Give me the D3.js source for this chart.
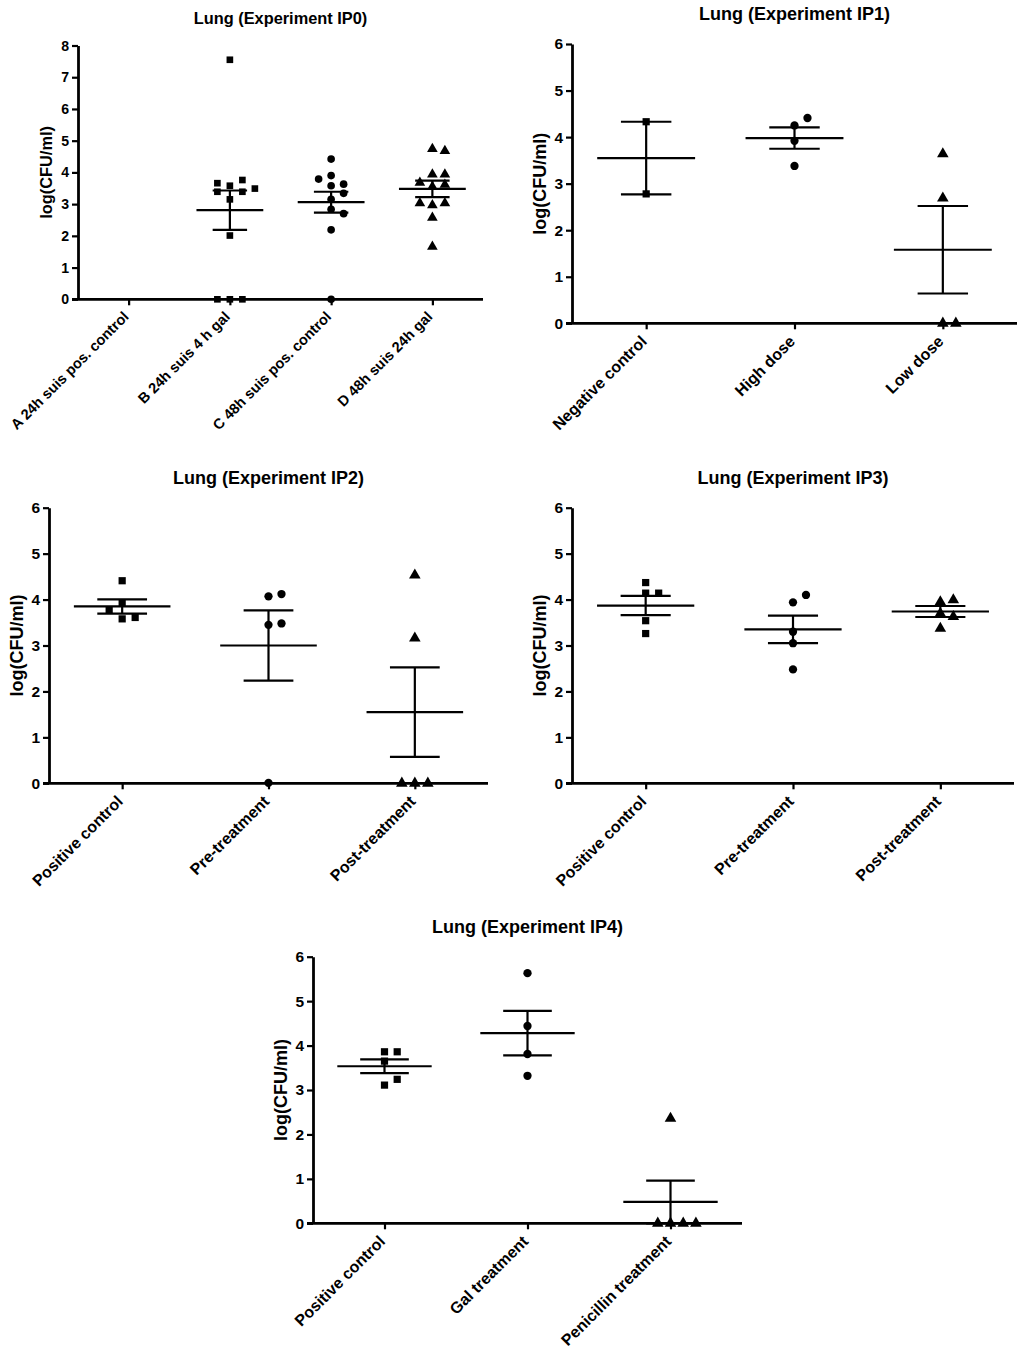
<!DOCTYPE html>
<html lang="en">
<head>
    <meta charset="UTF-8">
    <script src="https://d3js.org/d3.v7.min.js"></script>
    <title>Lung CFU experiments IP0-IP4</title>
    <style>
        body { margin: 0; background: #fff; }
        svg { font-family: Arial, "Liberation Sans", sans-serif; font-weight: bold; }
    </style>
</head>
<body>
    <div id="chart"></div>
    <script>
        // Data: log(CFU/ml) per animal, plus mean and SEM per group
        const ip0Groups = ["A 24h suis pos. control", "B 24h suis 4 h gal", "C 48h suis pos. control", "D 48h suis 24h gal"];
        const ip0Values = [
            [],
            [7.55, 3.58, 3.76, 3.66, 3.39, 3.39, 3.49, 3.15, 2.01, 0, 0, 0],
            [4.42, 3.58, 3.63, 3.79, 3.90, 3.34, 3.15, 2.84, 2.70, 2.19, 0],
            [4.74, 4.68, 3.94, 3.94, 3.55, 3.61, 3.68, 2.97, 3.03, 3.03, 2.57, 1.66]
        ];
        const ip0Mean = [null, 2.81, 3.06, 3.48];
        const ip0Sem = [null, 0.62, 0.33, 0.26];

        const ip1Groups = ["Negative control", "High dose", "Low dose"];
        const ip1Values = [
            [4.33, 2.78],
            [4.25, 4.41, 3.92, 3.38],
            [3.64, 2.69, 0, 0]
        ];
        const ip1Mean = [3.55, 3.98, 1.58];
        const ip1Sem = [0.78, 0.23, 0.94];

        const ip2Groups = ["Positive control", "Pre-treatment", "Post-treatment"];
        const ip2Values = [
            [4.41, 3.92, 3.58, 3.61, 3.77],
            [4.07, 4.12, 3.45, 3.48, 0.01],
            [4.53, 3.16, 0, 0, 0]
        ];
        const ip2Mean = [3.85, 3.00, 1.55];
        const ip2Sem = [0.155, 0.765, 0.975];

        const ip3Groups = ["Positive control", "Pre-treatment", "Post-treatment"];
        const ip3Values = [
            [4.14, 4.14, 4.37, 3.54, 3.26],
            [3.94, 4.10, 3.05, 3.30, 2.48],
            [3.95, 3.99, 3.70, 3.63, 3.37]
        ];
        const ip3Mean = [3.87, 3.35, 3.74];
        const ip3Sem = [0.21, 0.30, 0.12];

        const ip4Groups = ["Positive control", "Gal treatment", "Penicillin treatment"];
        const ip4Values = [
            [3.65, 3.86, 3.86, 3.11, 3.24],
            [5.63, 4.44, 3.81, 3.32],
            [2.36, 0, 0, 0, 0]
        ];
        const ip4Mean = [3.535, 4.28, 0.48];
        const ip4Sem = [0.155, 0.50, 0.48];

        // Panel layout
        const panels = [
            { title: "Lung (Experiment IP0)", groups: ip0Groups, values: ip0Values, mean: ip0Mean, sem: ip0Sem,
              yMax: 8, symbols: ["square", "square", "circle", "triangle"],
              left: 78, right: 483, top: 45.5, bottom: 299.3, titleY: 24, font: 0.91, mark: 0.85, slot: 12.5 },
            { title: "Lung (Experiment IP1)", groups: ip1Groups, values: ip1Values, mean: ip1Mean, sem: ip1Sem,
              yMax: 6, symbols: ["square", "circle", "triangle"],
              left: 572, right: 1017, top: 44, bottom: 323.3, titleY: 20, font: 1, mark: 1, slot: 13 },
            { title: "Lung (Experiment IP2)", groups: ip2Groups, values: ip2Values, mean: ip2Mean, sem: ip2Sem,
              yMax: 6, symbols: ["square", "circle", "triangle"],
              left: 49, right: 488, top: 507.7, bottom: 783.3, titleY: 484, font: 1, mark: 1, slot: 13 },
            { title: "Lung (Experiment IP3)", groups: ip3Groups, values: ip3Values, mean: ip3Mean, sem: ip3Sem,
              yMax: 6, symbols: ["square", "circle", "triangle"],
              left: 572, right: 1014, top: 507.7, bottom: 783.3, titleY: 484, font: 1, mark: 1, slot: 13 },
            { title: "Lung (Experiment IP4)", groups: ip4Groups, values: ip4Values, mean: ip4Mean, sem: ip4Sem,
              yMax: 6, symbols: ["square", "circle", "triangle"],
              left: 313, right: 742, top: 956.7, bottom: 1223.3, titleY: 933, font: 1, mark: 1, slot: 12.7 }
        ];

        const symbolTypes = { square: d3.symbolSquare, circle: d3.symbolCircle, triangle: d3.symbolTriangle };
        const symbolSizes = { square: 52, circle: 54, triangle: 58 };

        const svg = d3.select("#chart")
            .append("svg")
            .attr("width", 1024)
            .attr("height", 1348);

        panels.forEach(drawPanel);

        // Spread overlapping points sideways, like a scatter dot plot
        function swarm(values, y, thr) {
            const placed = [];
            const order = [0, 1, -1, 2, -2, 3, -3];
            return values.map(v => {
                const py = y(v);
                for (const k of order) {
                    if (!placed.some(p => p.k === k && Math.abs(p.py - py) < thr)) {
                        placed.push({ py, k });
                        return k;
                    }
                }
                return 0;
            });
        }

        function drawPanel(p) {
            const g = svg.append("g");

            const x = d3.scalePoint()
                .domain(p.groups)
                .range([p.left, p.right])
                .padding(0.5);

            const y = d3.scaleLinear()
                .domain([0, p.yMax])
                .range([p.bottom, p.top]);

            const step = x.step();

            // Title
            g.append("text")
                .attr("x", (p.left + p.right) / 2)
                .attr("y", p.titleY)
                .attr("text-anchor", "middle")
                .style("font-size", `${18 * p.font}px`)
                .text(p.title);

            // Y axis
            const yAxis = g.append("g")
                .attr("transform", `translate(${p.left},0)`)
                .call(d3.axisLeft(y).ticks(p.yMax).tickSize(6).tickSizeOuter(0).tickPadding(3).tickFormat(d3.format("d")))
                .attr("font-family", null)
                .attr("font-size", null);
            yAxis.select(".domain").attr("stroke-width", 2.8);
            yAxis.selectAll(".tick line").attr("stroke-width", 2.2);
            yAxis.selectAll(".tick text")
                .style("font-size", `${15.5 * p.font}px`)
                .attr("fill", "#000");

            // X axis
            const xAxis = g.append("g")
                .attr("transform", `translate(0,${y(0)})`)
                .call(d3.axisBottom(x).tickSize(6).tickSizeOuter(0))
                .attr("font-family", null)
                .attr("font-size", null);
            xAxis.select(".domain").remove();
            xAxis.append("line")
                .attr("x1", p.left - 6)
                .attr("x2", p.right)
                .attr("stroke", "#000")
                .attr("stroke-width", 2.8);
            xAxis.selectAll(".tick line").attr("stroke-width", 2.2);
            xAxis.selectAll(".tick text")
                .attr("x", 0)
                .attr("y", 0)
                .attr("dy", "0.72em")
                .attr("text-anchor", "end")
                .attr("transform", "translate(-7,11) rotate(-45)")
                .attr("fill", "#000")
                .style("font-size", `${16 * p.font}px`);

            // Y axis label
            g.append("text")
                .attr("transform", `translate(${p.left - 32},${(p.top + p.bottom) / 2}) rotate(-90)`)
                .attr("text-anchor", "middle")
                .attr("dy", "0.35em")
                .style("font-size", `${18 * p.font}px`)
                .text("log(CFU/ml)");

            // Points
            p.groups.forEach((grp, i) => {
                const shape = p.symbols[i];
                const slots = swarm(p.values[i], y, 8.5);
                const sym = d3.symbol().type(symbolTypes[shape]).size(symbolSizes[shape] * p.mark);
                g.selectAll(null)
                    .data(p.values[i])
                    .enter()
                    .append("path")
                    .attr("d", sym)
                    .attr("fill", "#000")
                    .attr("transform", (d, j) => `translate(${x(grp) + slots[j] * p.slot},${y(d)})`);
            });

            // Mean and SEM
            p.groups.forEach((grp, i) => {
                const m = p.mean[i];
                if (m == null) return;
                const s = p.sem[i];
                const cx = x(grp);
                const hi = m + s;
                const lo = Math.max(0, m - s);
                const lines = [
                    [cx - 0.33 * step, y(m), cx + 0.33 * step, y(m)],
                    [cx, y(hi), cx, y(lo)],
                    [cx - 0.17 * step, y(hi), cx + 0.17 * step, y(hi)],
                    [cx - 0.17 * step, y(lo), cx + 0.17 * step, y(lo)]
                ];
                g.selectAll(null)
                    .data(lines)
                    .enter()
                    .append("line")
                    .attr("x1", d => d[0])
                    .attr("y1", d => d[1])
                    .attr("x2", d => d[2])
                    .attr("y2", d => d[3])
                    .attr("stroke", "#000")
                    .attr("stroke-width", 2.2);
            });
        }
    </script>
</body>
</html>
